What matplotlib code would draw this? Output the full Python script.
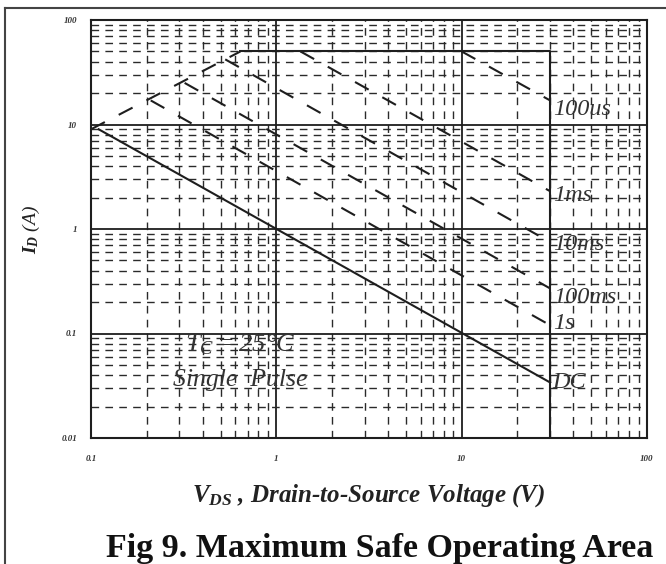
import matplotlib
matplotlib.use('Agg')
import matplotlib.pyplot as plt
from matplotlib.lines import Line2D
from matplotlib.ticker import FixedLocator, FixedFormatter, LogLocator, NullFormatter

# axis ticks
x_ticks = [0.1, 1, 10, 100]
x_tick_labels = ['0.1', '1', '10', '100']
y_ticks = [0.01, 0.1, 1, 10, 100]
y_tick_labels = ['0.01', '0.1', '1', '10', '100']

# RDS(on) limit and package limits
rds_v = [0.1, 0.64]
rds_i = [9.0, 50.0]
limit_v = [0.64, 30, 30]
limit_i = [50, 50, 0.01]

# pulse curves: start on the RDS(on) line / current limit, end at 30 V
pulse_names = ['100us', '1ms', '10ms', '100ms', '1s']
pulse_v = [[10, 30], [1.35, 30], [0.53, 30], [0.32, 30], [0.21, 30]]
pulse_i = [[50, 17], [50, 2.3], [42, 0.75], [25, 0.27], [17, 0.12]]
dc_v = [0.11, 30]
dc_i = [9.0, 0.034]

# where the curve names sit
label_names = ['100us', '1ms', '10ms', '100ms', '1s', 'DC']
label_i = [13.9, 2.1, 0.71, 0.22, 0.125, 0.034]
label_v = 31

plt.rcParams['font.family'] = ['Liberation Serif', 'DejaVu Serif']
plt.rcParams['mathtext.fontset'] = 'custom'
plt.rcParams['mathtext.rm'] = 'Liberation Serif'
plt.rcParams['mathtext.it'] = 'Liberation Serif:italic:bold'
plt.rcParams['mathtext.bf'] = 'Liberation Serif:bold'

ink = '#1e1e1e'

fig = plt.figure(figsize=(6.66, 5.64), dpi=100)
ax = fig.add_axes([91 / 666, 1 - 438 / 564, 556 / 666, 418 / 564])
ax.set_xscale('log')
ax.set_yscale('log')
ax.set_xlim(0.1, 100)
ax.set_ylim(0.01, 100)

# grid: solid decades, dashed minor lines
ax.xaxis.set_minor_locator(LogLocator(base=10, subs=range(2, 10)))
ax.yaxis.set_minor_locator(LogLocator(base=10, subs=range(2, 10)))
ax.xaxis.set_minor_formatter(NullFormatter())
ax.yaxis.set_minor_formatter(NullFormatter())
ax.grid(which='major', color=ink, lw=1.3, ls='-')
ax.grid(which='minor', color='#2a2a2a', lw=1.0, ls=(0, (5.5, 4.5)))

ax.xaxis.set_major_locator(FixedLocator(x_ticks))
ax.xaxis.set_major_formatter(FixedFormatter(x_tick_labels))
ax.yaxis.set_major_locator(FixedLocator(y_ticks))
ax.yaxis.set_major_formatter(FixedFormatter(y_tick_labels))
ax.tick_params(which='both', length=0)
ax.tick_params(axis='x', pad=12)
ax.tick_params(axis='y', pad=10)
for lab in ax.get_xticklabels() + ax.get_yticklabels():
    lab.set_fontsize(6.5)
    lab.set_fontweight('bold')
    lab.set_fontstyle('italic')
    lab.set_color('#333333')
for sp in ax.spines.values():
    sp.set_linewidth(1.5)
    sp.set_color(ink)

# curves
ax.plot(rds_v, rds_i, color=ink, lw=1.5, dashes=(7.5, 7.5))
ax.plot(limit_v, limit_i, color=ink, lw=1.5)
for v, i in zip(pulse_v, pulse_i):
    ax.plot(v, i, color=ink, lw=1.5, dashes=(7.5, 7.5))
ax.plot(dc_v, dc_i, color=ink, lw=1.5)

for name, yi in zip(label_names, label_i):
    ax.text(label_v, yi, name, fontsize=17.5, style='italic', color='#333333',
            ha='left', va='center')

ax.text(0.64, 0.078, r'$\mathregular{T_C = 25°C}$', fontsize=19, style='italic',
        color='#333333', ha='center', va='center')
ax.text(0.64, 0.036, 'Single  Pulse', fontsize=18.5, style='italic',
        color='#333333', ha='center', va='center')

ax.set_ylabel(r'$I_D$ (A)', fontsize=14, style='italic', labelpad=14, color='#222222')
ax.set_xlabel(r'$V_{DS}$ , Drain-to-Source Voltage (V)', fontsize=18, style='italic',
              fontweight='bold', labelpad=14, color='#222222')

fig.text(380 / 666, 1 - 548 / 564, 'Fig 9. Maximum Safe Operating Area',
         fontsize=24.5, fontweight='bold', ha='center', va='center', color='#111111')

# page frame
fig.add_artist(Line2D([5 / 666, 5 / 666], [0, 1 - 8 / 564], transform=fig.transFigure,
                      color='#444444', lw=1.5))
fig.add_artist(Line2D([5 / 666, 1], [1 - 8 / 564, 1 - 8 / 564], transform=fig.transFigure,
                      color='#444444', lw=1.5))

fig.savefig('out.png', dpi=100)
